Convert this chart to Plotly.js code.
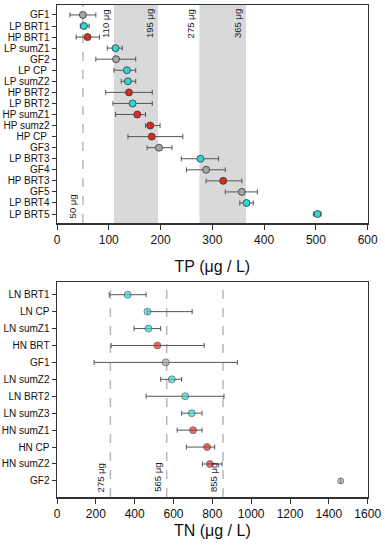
<!DOCTYPE html>
<html>
<head>
<meta charset="utf-8">
<script src="https://cdn.plot.ly/plotly-3.0.1.min.js"></script>
<style>html,body{margin:0;padding:0;background:#fff;}#chart{width:385px;height:550px;}</style>
</head>
<body>
<div id="chart"></div>
<script>
// ---- TP data (top panel) ----
var tpLabels = ["GF1","LP BRT1","HP BRT1","LP sumZ1","GF2","LP CP ","LP sumZ2","HP BRT2","LP BRT2","HP sumZ1","HP sumz2","HP CP ","GF3","LP BRT3","GF4","HP BRT3","GF5","LP BRT4","LP BRT5"];
var tpValues = [50,52,59,113,114,135,137,139,146,155,180,183,197,277,288,321,357,366,503];
var tpErrPlus = [25,10,23,13,38,17,15,45,38,16,19,60,25,35,37,36,30,13,7];
var tpErrMinus = [25,7,22,16,39,25,13,45,38,42,9,46,23,37,38,33,32,13,8];
var tpBands = [[110,195],[275,365]];
var tpBandLabels = ["110 μg","195 μg","275 μg","365 μg"];
var tpBandLabelX = [110,195,275,365];
var tpDashed = [50];
var tpDashedLabels = ["50 μg"];

// ---- TN data (bottom panel) ----
var tnLabels = ["LN BRT1","LN CP","LN sumZ1","HN BRT","GF1","LN sumZ2","LN BRT2","LN sumZ3","HN sumZ1","HN CP","HN sumZ2","GF2"];
var tnValues = [364,466,471,517,560,591,660,694,701,773,787,1461];
var tnErrPlus = [95,230,63,241,369,51,200,53,46,39,63,0];
var tnErrMinus = [95,0,74,238,369,57,201,52,82,107,38,0];
var tnDashed = [275,565,855];
var tnDashedLabels = ["275 μg","565 μg","855 μg"];

function colorFor(lbl){
  var p = lbl.trim().substring(0,2);
  if (p === "GF") return "#a6a6a6";
  if (p === "LP" || p === "LN") return "#2fd6d6";
  return "#dd2a1e";
}

var FONT = "Liberation Sans, Arial, sans-serif";
var errStyle = {color:"#555555", thickness:1, width:2.5};

var traceTP = {
  type:"scatter", mode:"markers", x:tpValues, y:tpLabels, xaxis:"x", yaxis:"y",
  error_x: Object.assign({type:"data", symmetric:false, array:tpErrPlus, arrayminus:tpErrMinus}, errStyle),
  marker:{size:7, color:tpLabels.map(colorFor), line:{color:"#333333", width:0.8}},
  showlegend:false, hoverinfo:"x+y"
};
var traceTN = {
  type:"scatter", mode:"markers", x:tnValues, y:tnLabels, xaxis:"x2", yaxis:"y2",
  error_x: Object.assign({type:"data", symmetric:false, array:tnErrPlus, arrayminus:tnErrMinus}, errStyle),
  marker:{size:tnLabels.map(function(l){return l==="GF2"?6:7;}), color:tnLabels.map(colorFor), line:{color:"#333333", width:0.8}},
  showlegend:false, hoverinfo:"x+y"
};

var shapes = [];
tpBands.forEach(function(b){
  shapes.push({type:"rect", xref:"x", yref:"y domain", x0:b[0], x1:b[1], y0:0, y1:1, fillcolor:"#d9d9d9", line:{width:0}, layer:"below"});
});
tpDashed.forEach(function(v){
  shapes.push({type:"line", xref:"x", yref:"y domain", x0:v, x1:v, y0:0, y1:1, line:{color:"#b8b8b8", width:1.5, dash:"dash"}, layer:"below"});
});
tnDashed.forEach(function(v){
  shapes.push({type:"line", xref:"x2", yref:"y2 domain", x0:v, x1:v, y0:0, y1:1, line:{color:"#b8b8b8", width:1.5, dash:"dash"}, layer:"below"});
});

var annFont = {family:FONT, size:9.5, color:"#222"};
var annotations = [];
tpBandLabelX.forEach(function(v,i){
  annotations.push({xref:"x", yref:"y domain", x:v, y:1, text:tpBandLabels[i], textangle:-90, showarrow:false,
    xanchor:"right", yanchor:"top", xshift:-1, yshift:-2, font:annFont});
});
tpDashed.forEach(function(v,i){
  annotations.push({xref:"x", yref:"y domain", x:v, y:0, text:tpDashedLabels[i], textangle:-90, showarrow:false,
    xanchor:"right", yanchor:"bottom", xshift:-3, yshift:3, font:annFont});
});
tnDashed.forEach(function(v,i){
  annotations.push({xref:"x2", yref:"y2 domain", x:v, y:0, text:tnDashedLabels[i], textangle:-90, showarrow:false,
    xanchor:"right", yanchor:"bottom", xshift:-2, yshift:3, font:annFont});
});

var xDom = [57/385, 367.7/385];
var axisCommon = {showline:true, mirror:true, linecolor:"#333333", linewidth:1.5, showgrid:false, zeroline:false,
  ticks:"outside", tickcolor:"#333333", automargin:false};

var layout = {
  width:385, height:550, margin:{l:0,r:0,t:0,b:0}, paper_bgcolor:"#ffffff", plot_bgcolor:"#ffffff",
  font:{family:FONT, color:"#111"},
  xaxis: Object.assign({}, axisCommon, {domain:xDom, anchor:"y", range:[0,600], dtick:100, ticklen:5,
    tickfont:{size:12, family:FONT}, title:{text:"TP (μg / L)", font:{size:16, family:FONT}, standoff:15}}),
  yaxis: Object.assign({}, axisCommon, {domain:[1-223/550, 1-5/550], anchor:"x", type:"category",
    range:[18.81,-0.9], ticklen:4, tickmode:"array", tickvals:tpLabels, ticktext:tpLabels, tickfont:{size:10, family:FONT}}),
  xaxis2: Object.assign({}, axisCommon, {domain:xDom, anchor:"y2", range:[0,1600], dtick:200, ticklen:5,
    tickfont:{size:12, family:FONT}, title:{text:"TN (μg / L)", font:{size:16, family:FONT}, standoff:5}}),
  yaxis2: Object.assign({}, axisCommon, {domain:[1-497/550, 1-282/550], anchor:"x2", type:"category",
    range:[11.95,-0.75], ticklen:4, tickmode:"array", tickvals:tnLabels, ticktext:tnLabels, tickfont:{size:10, family:FONT}}),
  shapes:shapes, annotations:annotations
};

Plotly.newPlot("chart", [traceTP, traceTN], layout, {displayModeBar:false, staticPlot:true});
</script>
</body>
</html>
